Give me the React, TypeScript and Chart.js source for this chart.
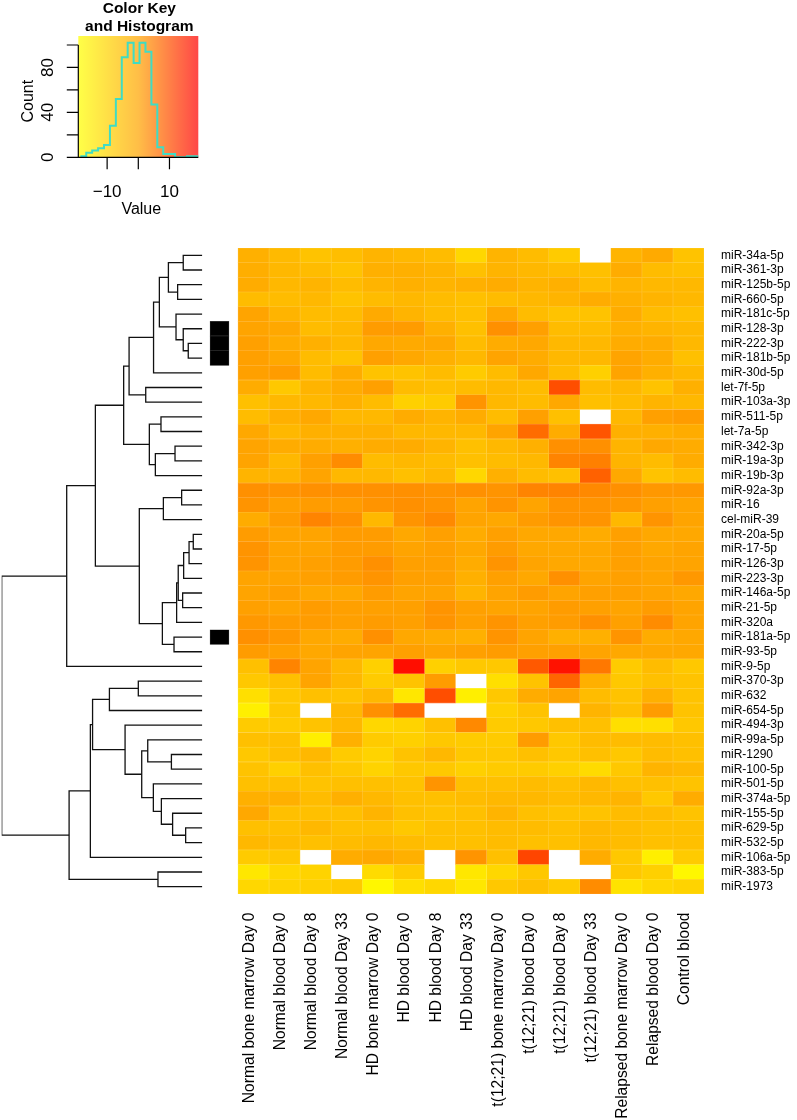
import React, { useEffect, useRef } from "react";
import { Chart, registerables } from "chart.js";

Chart.register(...registerables);
Chart.defaults.font.family = "'Liberation Sans', Arial, Helvetica, sans-serif";
Chart.defaults.color = "#000";

// ---------------- DATA ----------------
const rowLabels = [
  "miR-34a-5p", "miR-361-3p", "miR-125b-5p", "miR-660-5p", "miR-181c-5p",
  "miR-128-3p", "miR-222-3p", "miR-181b-5p", "miR-30d-5p", "let-7f-5p",
  "miR-103a-3p", "miR-511-5p", "let-7a-5p", "miR-342-3p", "miR-19a-3p",
  "miR-19b-3p", "miR-92a-3p", "miR-16", "cel-miR-39", "miR-20a-5p",
  "miR-17-5p", "miR-126-3p", "miR-223-3p", "miR-146a-5p", "miR-21-5p",
  "miR-320a", "miR-181a-5p", "miR-93-5p", "miR-9-5p", "miR-370-3p",
  "miR-632", "miR-654-5p", "miR-494-3p", "miR-99a-5p", "miR-1290",
  "miR-100-5p", "miR-501-5p", "miR-374a-5p", "miR-155-5p", "miR-629-5p",
  "miR-532-5p", "miR-106a-5p", "miR-383-5p", "miR-1973",
];

const colLabels = [
  "Normal bone marrow Day 0", "Normal blood Day 0", "Normal blood Day 8",
  "Normal blood Day 33", "HD bone marrow Day 0", "HD blood Day 0",
  "HD blood Day 8", "HD blood Day 33", "t(12;21) bone marrow Day 0",
  "t(12;21) blood Day 0", "t(12;21) blood Day 8", "t(12;21) blood Day 33",
  "Relapsed bone marrow Day 0", "Relapsed blood Day 0", "Control blood",
];

const N = null;
// one row per miRNA (same order as rowLabels), one value per column (colLabels)
const heatValues: (number | null)[][] = [
  [-2.3, -4.4, -6.5, -5.3, -3.2, -4.0, -4.9, -10.8, -3.2, -4.9, -8.2, N, -3.2, -1.1, -6.5],
  [-1.9, -4.0, -4.9, -6.5, -2.3, -2.3, -3.2, -5.7, -3.2, -4.0, -4.9, -5.7, -1.5, -4.9, -5.7],
  [-1.5, -4.0, -3.2, -4.9, -3.2, -2.3, -3.2, -2.3, -1.5, -3.2, -2.3, -4.9, -3.2, -4.0, -4.0],
  [-4.9, -4.9, -4.0, -6.5, -4.9, -4.0, -4.9, -5.7, -4.9, -4.0, -3.2, -1.5, -2.3, -3.2, -4.0],
  [0.1, -3.2, -4.9, -4.9, -1.1, -3.2, -4.9, -5.7, -0.6, -4.9, -6.5, -6.5, -1.5, -4.9, -5.7],
  [0.1, -0.6, -4.9, -4.0, 1.0, 1.0, -2.3, -5.7, 2.4, 0.6, -4.9, -4.9, -2.3, -3.2, -4.0],
  [0.6, -1.5, -2.3, -4.0, -0.6, -1.1, -0.6, -4.9, -1.5, -0.6, -4.0, -4.0, -1.5, -1.5, -4.0],
  [0.6, -0.6, -4.9, -6.5, 0.6, -0.6, -2.3, -4.0, 0.1, -1.5, -4.0, -4.0, 0.1, -1.5, -5.7],
  [0.6, 1.0, -4.9, -1.5, -6.5, -6.5, -4.9, -8.2, -4.9, -0.6, -4.9, -9.1, 0.1, -2.3, -4.0],
  [-1.5, -7.4, -3.2, -1.5, 0.6, -4.9, -5.7, -4.9, -4.0, -4.9, 10.2, -4.9, -4.0, -6.5, -2.3],
  [-5.7, -4.0, -4.0, -2.3, -4.9, -9.1, -8.2, 2.0, -4.0, -4.9, -0.6, -5.7, -4.9, -3.2, -4.0],
  [-4.9, -2.3, -0.6, -4.0, -4.0, -1.5, -3.2, -1.5, -4.9, 0.6, -5.7, N, -4.0, 0.6, 1.0],
  [-0.6, -4.0, -2.3, -2.3, -2.3, -4.0, -4.0, -4.0, 0.1, 6.6, -1.5, 9.3, -2.3, -2.3, -1.5],
  [0.1, -1.5, -1.5, -2.3, -1.5, -1.5, -3.2, -5.7, -4.0, -2.3, 2.4, 2.4, -3.2, -0.6, -1.5],
  [0.1, -4.0, 0.6, 2.9, -4.9, -4.0, -4.9, -5.7, -4.9, -4.0, 3.8, 4.3, -3.2, -4.9, -1.5],
  [-3.2, -3.2, 0.1, -4.0, -4.0, -5.7, -4.0, -10.8, -2.3, -4.9, -5.7, 7.9, -0.6, -6.5, -4.9],
  [2.4, 2.0, 2.4, 2.4, 2.4, 2.4, 2.0, 2.4, 2.0, 3.8, 3.8, 3.3, 2.4, 1.5, 1.5],
  [2.0, 0.6, 1.0, 1.0, 2.0, 2.4, 2.0, 0.1, 2.0, 0.1, 2.0, 2.0, 1.5, 0.6, 0.1],
  [-1.5, 1.0, 3.8, 2.4, -4.0, 2.0, 3.3, 0.1, -0.6, 1.0, 2.0, 2.0, -4.0, 2.0, 0.1],
  [1.0, 0.1, 0.1, 1.0, 1.0, -0.6, 0.6, -1.5, 0.6, -0.6, -0.6, -1.5, 0.6, -0.6, -0.6],
  [2.0, 0.1, 0.1, 1.0, 1.0, 0.1, 0.6, -0.6, 1.0, -0.6, -0.6, -0.6, 0.6, -0.6, 0.1],
  [2.0, 0.1, 0.6, 1.0, 2.4, 0.6, 0.6, -1.5, 2.0, 0.1, -0.6, -0.6, 0.6, 0.1, 0.1],
  [0.1, 0.1, 0.6, 1.0, 2.0, 0.6, 0.6, -2.3, 0.6, -0.6, 2.4, 0.1, 0.6, 0.1, 1.5],
  [0.1, 0.6, -0.6, -0.6, 1.0, 0.1, 0.1, -3.2, 0.1, 1.0, 0.1, 0.6, 0.6, 0.1, -0.6],
  [0.6, 0.1, 1.0, 0.6, 0.6, 0.6, 2.0, 0.6, 0.1, 0.1, 1.0, 0.6, 0.1, 1.0, 0.1],
  [1.5, 1.0, 1.0, 0.6, 1.0, 0.6, 2.0, 0.6, 2.0, 0.6, 1.0, 2.4, 0.6, 2.9, 0.1],
  [2.4, 1.5, -0.6, -1.5, 2.4, -0.6, -1.5, -2.3, 2.0, 0.1, -2.3, -2.3, 2.0, -1.5, -0.6],
  [1.0, 0.6, -0.6, 0.1, 0.1, 0.6, 0.1, 0.6, 1.0, 0.6, 0.6, 0.1, -0.6, -0.6, -0.6],
  [-5.7, 3.8, 0.1, -4.0, -9.1, 17.6, -9.1, -7.4, -7.4, 8.9, 17.2, 5.2, -8.2, -4.9, -7.4],
  [-7.4, -5.7, 0.1, -4.0, -8.2, -6.5, 1.0, N, -12.5, -6.5, 7.5, -2.3, -7.4, -5.7, -6.5],
  [-12.5, -7.4, -5.7, -6.5, -4.0, -14.1, 10.2, -15.8, -7.4, -1.5, 0.1, -4.9, -6.5, -2.3, -6.5],
  [-15.8, -7.4, N, -4.0, 2.4, 6.6, N, N, -9.1, -6.5, N, -3.2, -5.7, 1.0, -6.5],
  [-8.2, -8.2, -6.5, -4.0, -10.8, -9.9, -5.7, 3.3, -8.2, -7.4, -5.7, -5.7, -12.5, -12.5, -7.4],
  [-5.7, -5.7, -15.8, -2.3, -8.2, -9.1, -7.4, -8.2, -8.2, 1.0, -7.4, -4.9, -4.9, -4.9, -5.7],
  [-7.4, -5.7, -4.0, -8.2, -9.9, -6.5, -4.0, -7.4, -7.4, -5.7, -7.4, -5.7, -7.4, -4.9, -5.7],
  [-6.5, -9.1, -5.7, -7.4, -9.9, -7.4, -7.4, -9.1, -8.2, -8.2, -9.1, -11.6, -7.4, -3.2, -4.0],
  [-5.7, -5.7, -6.5, -5.7, -5.7, -6.5, 2.0, -5.7, -5.7, -4.9, -5.7, -4.0, -5.7, -5.7, -6.5],
  [-2.3, -2.3, -4.9, -2.3, -4.0, -5.7, -5.7, -4.9, -4.0, -4.0, -4.9, -4.0, -3.2, -7.4, -1.5],
  [-0.6, -5.7, -5.7, -5.7, -3.2, -5.7, -6.5, -5.7, -3.2, -5.7, -6.5, -6.5, -4.9, -4.9, -6.5],
  [-5.7, -5.7, -4.0, -5.7, -5.7, -7.4, -5.7, -5.7, -4.9, -4.9, -5.7, -4.0, -4.9, -5.7, -5.7],
  [-4.0, -4.9, -5.7, -4.9, -4.0, -4.9, -5.7, -5.7, -4.9, -5.7, -5.7, -4.0, -4.9, -5.7, -5.7],
  [-8.2, -7.4, N, -1.5, -0.6, -2.3, N, 2.0, -5.7, 11.2, N, -1.5, -7.4, -15.8, -8.2],
  [-14.1, -10.8, -9.9, N, -11.6, -8.2, N, -14.1, -10.8, -7.4, N, N, -7.4, -9.1, -17.5],
  [-10.8, -9.9, -9.1, -8.2, -17.5, -12.5, -10.8, -14.1, -7.4, -5.7, -8.2, 2.9, -13.3, -10.8, -9.9],
];

// rows flagged by the black side colour bar
const sideMarkedRows = ["miR-128-3p", "miR-222-3p", "miR-181b-5p", "miR-181a-5p"];

// row dendrogram (hclust style: negative = leaf/row number, positive = earlier merge)
const dendroMerges: [number, number][] = [
  [-1, -2], [-3, -4], [1, 2], [-7, -8], [-6, 4], [-5, 5], [3, 6], [7, -9],
  [-10, -11], [8, 9], [-12, -13], [-14, -15], [12, -16], [11, 13], [10, 14],
  [-17, -18], [16, -19], [-20, -21], [18, -22], [19, -23], [-24, -25], [20, 21],
  [22, -26], [-27, -28], [23, 24], [17, 25], [15, 26], [27, -29],
  [-30, -31], [29, -32], [-35, -36], [-34, 31], [-40, -41], [-39, 33], [-38, 34],
  [-37, 35], [32, 36], [-33, 37], [30, 38], [39, -42], [-43, -44], [40, 41], [28, 42],
];
const dendroHeights = [
  9.5, 12.3, 16.9, 7.0, 9.5, 13.1, 21.4, 24.3,
  28.2, 36.5, 20.6, 13.6, 23.4, 26.4, 39.2,
  10.3, 19.4, 4.5, 6.6, 9.3, 9.8, 12.0,
  12.8, 14.1, 19.9, 31.4, 53.3, 67.6,
  31.9, 46.3, 15.4, 27.2, 8.3, 14.8, 20.4,
  24.4, 30.2, 38.5, 54.7, 55.8, 22.1, 66.4, 100,
];

// colour key histogram
const histBreaks = [
  -18.6, -16.7, -14.8, -12.9, -11.0, -9.1, -7.2, -5.3, -3.4, -1.5, 0.4,
  2.3, 4.2, 6.1, 8.0, 9.9, 11.8, 13.7, 15.6, 17.5, 19.4,
];
const histCounts = [1, 4, 6, 8, 11, 28, 52, 89, 102, 84, 102, 94, 47, 9, 3, 3, 0, 0, 1, 1];
const keyXTicks = [-10, 0, 10];
const keyXTickLabels = ["\u221210", "", "10"];
const keyYTicks = [0, 20, 40, 60, 80, 100];
const keyYTickLabels = ["0", "", "40", "", "80", ""];

const KEY_MIN = -19.25;
const KEY_MAX = 19.25;

// ---------------- COLOURS ----------------
function ramp(v: number): [number, number, number] {
  const t = Math.min(1, Math.max(0, (v - KEY_MIN) / (KEY_MAX - KEY_MIN)));
  const g = t < 0.5 ? 255 - 180 * t : 330 * (1 - t); // yellow -> orange -> red
  return [255, g, 0];
}
function rgb(c: number[]) {
  return `rgb(${Math.round(c[0])},${Math.round(c[1])},${Math.round(c[2])})`;
}
function mixWhite(c: number[], a: number) {
  return c.map((x) => x + (255 - x) * a);
}
const cellColor = (v: number) => rgb(ramp(v));
const cellBorder = (v: number) => rgb(mixWhite(ramp(v), 0.22));
const keyColor = (v: number) => rgb(mixWhite(ramp(v), 0.28));

// ---------------- CHART CONFIGS ----------------
function makeHeatConfig(): any {
  const cellDatasets = colLabels.map((c, j) => ({
    label: c,
    data: heatValues.map((row) => (row[j] == null ? null : [j, j + 1])),
    backgroundColor: heatValues.map((row) => (row[j] == null ? "rgba(0,0,0,0)" : cellColor(row[j] as number))),
    borderColor: heatValues.map((row) => (row[j] == null ? "rgba(0,0,0,0)" : cellBorder(row[j] as number))),
    borderWidth: 0.6,
    borderSkipped: false,
    barPercentage: 1,
    categoryPercentage: 1,
    grouped: false,
  }));
  const sideDataset = {
    label: "side",
    data: rowLabels.map((r) => (sideMarkedRows.includes(r) ? [-0.9, -0.29] : null)),
    backgroundColor: "#000",
    borderColor: "#3a3a3a",
    borderWidth: 0.6,
    borderSkipped: false,
    barPercentage: 1,
    categoryPercentage: 1,
    grouped: false,
  };
  return {
    type: "bar",
    data: { labels: rowLabels, datasets: [...cellDatasets, sideDataset] },
    options: {
      indexAxis: "y",
      responsive: false,
      animation: false,
      events: [],
      layout: { padding: { left: 6.93, right: 0, top: 248, bottom: 0 } },
      plugins: { legend: { display: false }, tooltip: { enabled: false } },
      scales: {
        x: {
          type: "linear",
          min: -1,
          max: 15,
          position: "bottom",
          grid: { display: false, drawTicks: false },
          border: { display: false },
          afterBuildTicks: (s: any) => {
            s.ticks = colLabels.map((_, i) => ({ value: i + 0.5 - 0.12 }));
          },
          afterFit: (s: any) => {
            s.height = 226;
          },
          ticks: {
            autoSkip: false,
            minRotation: 90,
            maxRotation: 90,
            padding: 18.5,
            color: "#000",
            font: { size: 15.6 },
            callback: (_v: any, i: number) => colLabels[i],
          },
        },
        y: {
          type: "category",
          position: "right",
          offset: true,
          grid: { display: false, drawTicks: false },
          border: { display: false },
          afterFit: (s: any) => {
            s.width = 93;
          },
          ticks: { autoSkip: false, padding: 17, color: "#000", font: { size: 12 } },
        },
      },
    },
  };
}

function makeDendroConfig(): any {
  const pos: number[] = [];
  const hts: number[] = [];
  const segs: { x: number; y: number }[][] = [];
  dendroMerges.forEach(([a, b], k) => {
    const pa = a < 0 ? -a : pos[a - 1];
    const ha = a < 0 ? 0 : hts[a - 1];
    const pb = b < 0 ? -b : pos[b - 1];
    const hb = b < 0 ? 0 : hts[b - 1];
    const h = dendroHeights[k];
    segs.push([
      { x: ha, y: pa },
      { x: h, y: pa },
      { x: h, y: pb },
      { x: hb, y: pb },
    ]);
    pos.push((pa + pb) / 2);
    hts.push(h);
  });
  return {
    type: "scatter",
    data: {
      datasets: segs.map((s) => ({
        data: s,
        showLine: true,
        borderColor: "#111",
        borderWidth: 1.3,
        pointRadius: 0,
        tension: 0,
        fill: false,
      })),
    },
    options: {
      responsive: false,
      animation: false,
      events: [],
      layout: { padding: { left: 1.7, right: 33.7, top: 248, bottom: 226 } },
      plugins: { legend: { display: false }, tooltip: { enabled: false } },
      scales: {
        x: { type: "linear", display: false, min: 0, max: 100, reverse: true },
        y: { type: "linear", display: false, min: 0.5, max: rowLabels.length + 0.5, reverse: true },
      },
    },
  };
}

const keyDecor = {
  id: "keyDecor",
  beforeDatasetsDraw(chart: any) {
    const { ctx, chartArea: a } = chart;
    const g = ctx.createLinearGradient(a.left, 0, a.right, 0);
    [0, 0.5, 1].forEach((t) => g.addColorStop(t, keyColor(KEY_MIN + t * (KEY_MAX - KEY_MIN))));
    ctx.save();
    ctx.fillStyle = g;
    ctx.fillRect(a.left, a.top, a.right - a.left, a.bottom - a.top);
    ctx.restore();
  },
  afterDraw(chart: any) {
    const { ctx, chartArea: a, scales } = chart;
    const x = scales.x;
    const y = scales.y;
    const fam = "'Liberation Sans', Arial, sans-serif";
    ctx.save();
    ctx.strokeStyle = "#000";
    ctx.lineWidth = 1.2;
    ctx.beginPath();
    const yTop = y.getPixelForValue(keyYTicks[keyYTicks.length - 1]);
    const yBot = y.getPixelForValue(keyYTicks[0]);
    ctx.moveTo(a.left, yBot);
    ctx.lineTo(a.left, yTop);
    keyYTicks.forEach((v) => {
      const p = y.getPixelForValue(v);
      ctx.moveTo(a.left, p);
      ctx.lineTo(a.left - 11.5, p);
    });
    ctx.moveTo(a.left, a.bottom);
    ctx.lineTo(a.right, a.bottom);
    keyXTicks.forEach((v) => {
      const p = x.getPixelForValue(v);
      ctx.moveTo(p, a.bottom);
      ctx.lineTo(p, a.bottom + 12);
    });
    ctx.stroke();

    ctx.fillStyle = "#000";
    ctx.font = `17px ${fam}`;
    ctx.textAlign = "center";
    ctx.textBaseline = "alphabetic";
    keyXTicks.forEach((v, i) => {
      if (keyXTickLabels[i]) ctx.fillText(keyXTickLabels[i], x.getPixelForValue(v), 196.5);
    });
    keyYTicks.forEach((v, i) => {
      if (!keyYTickLabels[i]) return;
      ctx.save();
      ctx.translate(52.7, y.getPixelForValue(v));
      ctx.rotate(-Math.PI / 2);
      ctx.fillText(keyYTickLabels[i], 0, 0);
      ctx.restore();
    });
    ctx.font = `16px ${fam}`;
    ctx.fillText("Value", (a.left + a.right) / 2 + 3, 214);
    ctx.save();
    ctx.translate(33, y.getPixelForValue(50));
    ctx.rotate(-Math.PI / 2);
    ctx.fillText("Count", 0, 0);
    ctx.restore();

    ctx.font = `bold 15.5px ${fam}`;
    const cx = (a.left + a.right) / 2 + 1;
    ctx.fillText("Color Key", cx, 12.8);
    ctx.fillText("and Histogram", cx, 30.7);
    ctx.restore();
  },
};

function makeKeyConfig(): any {
  const pts = histCounts.map((c, i) => ({ x: histBreaks[i], y: c }));
  pts.push({ x: histBreaks[histBreaks.length - 1], y: histCounts[histCounts.length - 1] });
  return {
    type: "line",
    data: {
      datasets: [
        {
          data: pts,
          stepped: true,
          borderColor: "#3fdcc4",
          borderWidth: 2,
          pointRadius: 0,
          fill: false,
        },
      ],
    },
    options: {
      responsive: false,
      animation: false,
      events: [],
      layout: { padding: { left: 78.3, right: 16.7, top: 36, bottom: 72.7 } },
      plugins: { legend: { display: false }, tooltip: { enabled: false } },
      scales: {
        x: { type: "linear", display: false, min: KEY_MIN, max: KEY_MAX },
        y: { type: "linear", display: false, min: 0, max: 108 },
      },
    },
    plugins: [keyDecor],
  };
}

// ---------------- COMPONENTS ----------------
function ChartCanvas(props: { make: () => any; left: number; top: number; width: number; height: number }) {
  const ref = useRef<HTMLCanvasElement>(null);
  useEffect(() => {
    const chart = new Chart(ref.current as HTMLCanvasElement, props.make());
    return () => chart.destroy();
  }, []);
  return (
    <canvas
      ref={ref}
      width={props.width}
      height={props.height}
      style={{ position: "absolute", left: props.left, top: props.top, width: props.width, height: props.height }}
    />
  );
}

export default function App() {
  return (
    <div style={{ position: "absolute", left: 0, top: 0, width: 797, height: 1120, background: "#fff", overflow: "hidden" }}>
      <ChartCanvas make={makeHeatConfig} left={200} top={0} width={597} height={1120} />
      <ChartCanvas make={makeDendroConfig} left={0} top={0} width={236} height={1120} />
      <ChartCanvas make={makeKeyConfig} left={0} top={0} width={215} height={230} />
    </div>
  );
}
